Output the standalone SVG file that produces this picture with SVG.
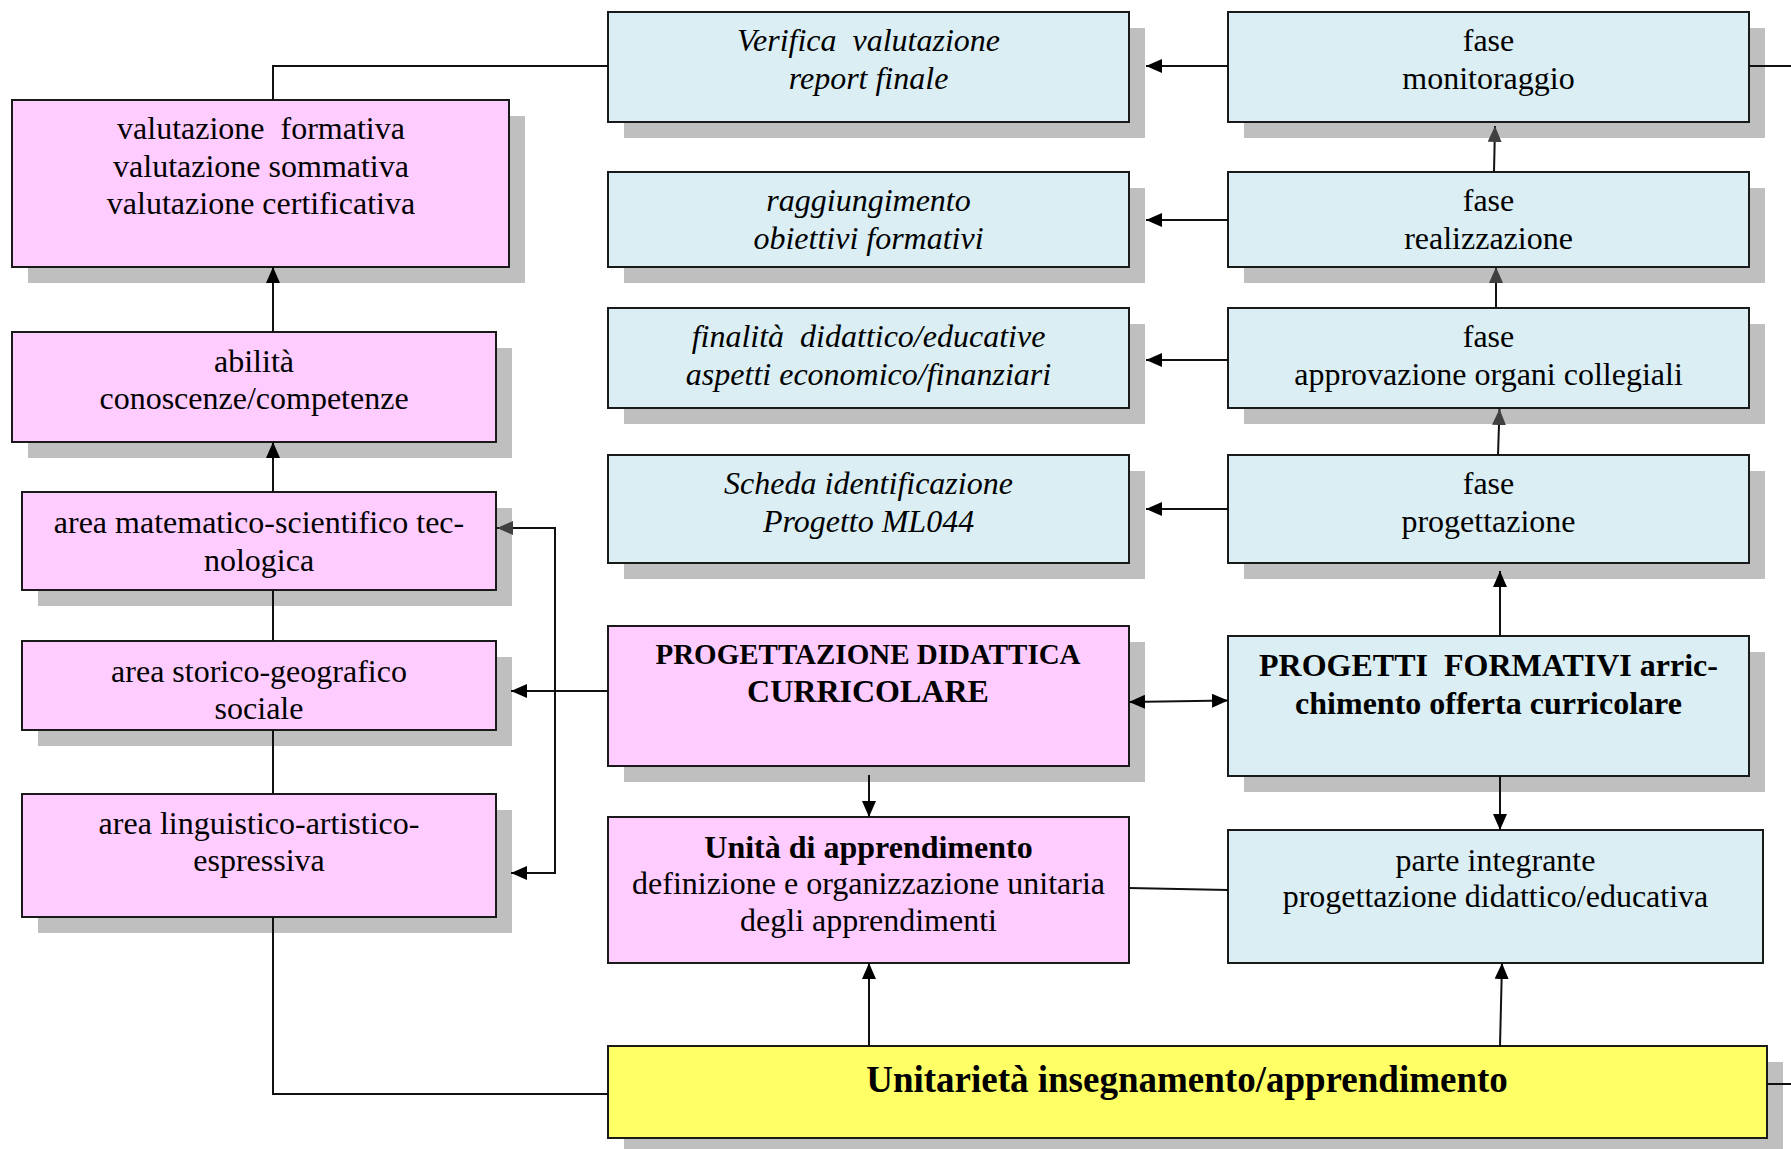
<svg xmlns="http://www.w3.org/2000/svg" width="1791" height="1149" viewBox="0 0 1791 1149">
<style>
  .sh { fill: #BFBFBF; }
  .pk { fill: #FFCCFF; stroke: #1A1A1A; stroke-width: 2; }
  .bl { fill: #DAEEF3; stroke: #1A1A1A; stroke-width: 2; }
  .yl { fill: #FFFF66; stroke: #1A1A1A; stroke-width: 2; }
  text { font-family: "Liberation Serif", "Times New Roman", serif; font-size: 32px; fill: #000; text-anchor: middle; }
  .it { font-style: italic; }
  .b { font-weight: bold; }
  .ln { fill: none; stroke: #111; stroke-width: 2; }
</style>
<defs>
  <marker id="ab" viewBox="0 0 16 14" refX="16" refY="7" markerWidth="16" markerHeight="14" markerUnits="userSpaceOnUse" orient="auto-start-reverse">
    <path d="M0,0 L16,7 L0,14 z" fill="#000"/>
  </marker>
  <marker id="ag" viewBox="0 0 16 14" refX="16" refY="7" markerWidth="16" markerHeight="14" markerUnits="userSpaceOnUse" orient="auto">
    <path d="M0,0 L16,7 L0,14 z" fill="#404040"/>
  </marker>
</defs>
<rect width="1791" height="1149" fill="#FFFFFF"/>

<g id="n_val">
  <rect class="sh" x="28" y="116" width="497" height="167"/>
  <rect class="pk" x="12" y="100" width="497" height="167"/>
  <text x="261" y="139" xml:space="preserve">valutazione  formativa</text>
  <text x="261" y="177">valutazione sommativa</text>
  <text x="261" y="214">valutazione certificativa</text>
</g>
<g id="n_abil">
  <rect class="sh" x="28" y="348" width="484" height="110"/>
  <rect class="pk" x="12" y="332" width="484" height="110"/>
  <text x="254" y="372">abilità</text>
  <text x="254" y="409">conoscenze/competenze</text>
</g>
<g id="n_mat">
  <rect class="sh" x="38" y="508" width="474" height="98"/>
  <rect class="pk" x="22" y="492" width="474" height="98"/>
  <text x="259" y="533">area matematico-scientifico tec-</text>
  <text x="259" y="571">nologica</text>
</g>
<g id="n_stor">
  <rect class="sh" x="38" y="657" width="474" height="89"/>
  <rect class="pk" x="22" y="641" width="474" height="89"/>
  <text x="259" y="682">area storico-geografico</text>
  <text x="259" y="719">sociale</text>
</g>
<g id="n_ling">
  <rect class="sh" x="38" y="810" width="474" height="123"/>
  <rect class="pk" x="22" y="794" width="474" height="123"/>
  <text x="259" y="834">area linguistico-artistico-</text>
  <text x="259" y="871">espressiva</text>
</g>

<g id="n_ver">
  <rect class="sh" x="624" y="28" width="521" height="110"/>
  <rect class="bl" x="608" y="12" width="521" height="110"/>
  <text class="it" x="868.5" y="51" xml:space="preserve">Verifica  valutazione</text>
  <text class="it" x="868.5" y="89">report finale</text>
</g>
<g id="n_rag">
  <rect class="sh" x="624" y="188" width="521" height="95"/>
  <rect class="bl" x="608" y="172" width="521" height="95"/>
  <text class="it" x="868.5" y="211">raggiungimento</text>
  <text class="it" x="868.5" y="249">obiettivi formativi</text>
</g>
<g id="n_fin">
  <rect class="sh" x="624" y="324" width="521" height="100"/>
  <rect class="bl" x="608" y="308" width="521" height="100"/>
  <text class="it" x="868.5" y="347" xml:space="preserve">finalità  didattico/educative</text>
  <text class="it" x="868.5" y="385">aspetti economico/finanziari</text>
</g>
<g id="n_sch">
  <rect class="sh" x="624" y="471" width="521" height="108"/>
  <rect class="bl" x="608" y="455" width="521" height="108"/>
  <text class="it" x="868.5" y="494">Scheda identificazione</text>
  <text class="it" x="868.5" y="532">Progetto ML044</text>
</g>
<g id="n_prog">
  <rect class="sh" x="624" y="642" width="521" height="140"/>
  <rect class="pk" x="608" y="626" width="521" height="140"/>
  <text class="b" x="868" y="664" style="font-size:29px">PROGETTAZIONE DIDATTICA</text>
  <text class="b" x="868" y="701.5">CURRICOLARE</text>
</g>
<g id="n_uni">
  <rect class="pk" x="608" y="817" width="521" height="146"/>
  <text class="b" x="868.5" y="858">Unità di apprendimento</text>
  <text x="868.5" y="894">definizione e organizzazione unitaria</text>
  <text x="868.5" y="931">degli apprendimenti</text>
</g>
<g id="n_yel">
  <rect class="sh" x="624" y="1062" width="1159" height="92"/>
  <rect class="yl" x="608" y="1046" width="1159" height="92"/>
  <text class="b" x="1187" y="1092" style="font-size:37px">Unitarietà insegnamento/apprendimento</text>
</g>

<g id="n_mon">
  <rect class="sh" x="1244" y="28" width="521" height="110"/>
  <rect class="bl" x="1228" y="12" width="521" height="110"/>
  <text x="1488.5" y="51">fase</text>
  <text x="1488.5" y="89">monitoraggio</text>
</g>
<g id="n_real">
  <rect class="sh" x="1244" y="188" width="521" height="95"/>
  <rect class="bl" x="1228" y="172" width="521" height="95"/>
  <text x="1488.5" y="211">fase</text>
  <text x="1488.5" y="249">realizzazione</text>
</g>
<g id="n_appr">
  <rect class="sh" x="1244" y="324" width="521" height="100"/>
  <rect class="bl" x="1228" y="308" width="521" height="100"/>
  <text x="1488.5" y="347">fase</text>
  <text x="1488.5" y="385">approvazione organi collegiali</text>
</g>
<g id="n_fprog">
  <rect class="sh" x="1244" y="471" width="521" height="108"/>
  <rect class="bl" x="1228" y="455" width="521" height="108"/>
  <text x="1488.5" y="494">fase</text>
  <text x="1488.5" y="532">progettazione</text>
</g>
<g id="n_pf">
  <rect class="sh" x="1244" y="652" width="521" height="140"/>
  <rect class="bl" x="1228" y="636" width="521" height="140"/>
  <text class="b" x="1488.5" y="676" xml:space="preserve">PROGETTI  FORMATIVI arric-</text>
  <text class="b" x="1488.5" y="714">chimento offerta curricolare</text>
</g>
<g id="n_parte">
  <rect class="bl" x="1228" y="830" width="535" height="133"/>
  <text x="1495.5" y="871">parte integrante</text>
  <text x="1495.5" y="907">progettazione didattico/educativa</text>
</g>

<g id="connectors">
  <polyline class="ln" points="608,66 273,66 273,100"/>
  <line class="ln" x1="273" y1="332" x2="273" y2="267" marker-end="url(#ab)"/>
  <line class="ln" x1="273" y1="492" x2="273" y2="442" marker-end="url(#ab)"/>
  <line class="ln" x1="273" y1="590" x2="273" y2="641"/>
  <line class="ln" x1="273" y1="730" x2="273" y2="794"/>
  <polyline class="ln" points="273,917 273,1094 608,1094"/>
  <line class="ln" x1="608" y1="691" x2="511" y2="691" marker-end="url(#ab)"/>
  <line class="ln" x1="555" y1="528" x2="555" y2="873"/>
  <line class="ln" x1="556" y1="528" x2="497" y2="528" marker-end="url(#ag)"/>
  <line class="ln" x1="556" y1="873" x2="511" y2="873" marker-end="url(#ab)"/>
  <line class="ln" x1="1228" y1="66" x2="1146" y2="66" marker-end="url(#ab)"/>
  <line class="ln" x1="1228" y1="220" x2="1146" y2="220" marker-end="url(#ab)"/>
  <line class="ln" x1="1228" y1="360" x2="1146" y2="360" marker-end="url(#ab)"/>
  <line class="ln" x1="1228" y1="509" x2="1146" y2="509" marker-end="url(#ab)"/>
  <line class="ln" x1="1494" y1="172" x2="1495" y2="126" marker-end="url(#ag)"/>
  <line class="ln" x1="1496" y1="308" x2="1496" y2="267" marker-end="url(#ag)"/>
  <line class="ln" x1="1498" y1="455" x2="1499.5" y2="409" marker-end="url(#ag)"/>
  <line class="ln" x1="1500" y1="636" x2="1500" y2="571" marker-end="url(#ab)"/>
  <line class="ln" x1="1500" y1="776" x2="1500" y2="830" marker-end="url(#ab)"/>
  <line class="ln" x1="1129" y1="702" x2="1228" y2="700.5" marker-start="url(#ab)" marker-end="url(#ab)"/>
  <line class="ln" x1="1129" y1="888" x2="1228" y2="890"/>
  <line class="ln" x1="869" y1="775" x2="869" y2="817" marker-end="url(#ab)"/>
  <line class="ln" x1="869" y1="1046" x2="869" y2="963" marker-end="url(#ab)"/>
  <line class="ln" x1="1500" y1="1046" x2="1502" y2="963" marker-end="url(#ab)"/>
  <line class="ln" x1="1749" y1="66" x2="1791" y2="66"/>
  <line class="ln" x1="1767" y1="1084" x2="1791" y2="1084"/>
</g>
</svg>
